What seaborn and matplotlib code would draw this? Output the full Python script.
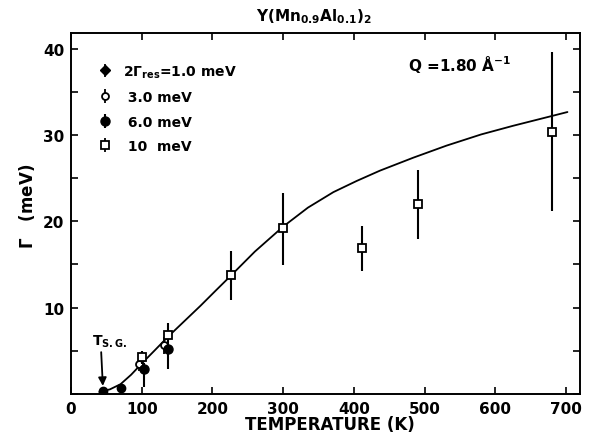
"""
Y(Mn0.9Al0.1)2 — 线宽 Γ 随温度变化 (Q = 1.80 Å^-1)
"""

import numpy as np
import pandas as pd
import matplotlib
matplotlib.use("Agg")
import matplotlib.pyplot as plt
import seaborn as sns

# ---- 数据 ----
# 2Γres = 1.0 meV（实心小圆）
t_res1 = [45, 70]
g_res1 = [0.35, 0.7]

# 3.0 meV（空心圆）
t_res3 = [96, 131]
g_res3 = [3.5, 5.6]
g_res3_lo = [2.6, 4.6]
g_res3_hi = [4.4, 6.6]

# 6.0 meV（实心大圆）
t_res6 = [103, 137]
g_res6 = [2.9, 5.2]
g_res6_lo = [0.8, 2.9]
g_res6_hi = [3.6, 5.8]

# 10 meV（空心方块）
t_res10 = [101, 137, 226, 300, 412, 490, 680]
g_res10 = [4.3, 6.8, 13.8, 19.2, 16.9, 22.0, 30.4]
g_res10_lo = [3.4, 5.8, 10.9, 14.9, 14.3, 17.9, 21.2]
g_res10_hi = [5.0, 8.2, 16.6, 23.3, 19.5, 26.0, 39.7]

# 理论曲线
t_fit = [40, 55, 70, 85, 100, 118, 137, 160, 183, 205, 226, 260, 300,
         335, 371, 404, 437, 484, 531, 580, 625, 678, 702]
g_fit = [0.2, 0.5, 1.1, 2.2, 3.5, 5.0, 6.6, 8.4, 10.2, 12.0, 13.7, 16.5, 19.4,
         21.6, 23.4, 24.7, 25.9, 27.4, 28.8, 30.1, 31.1, 32.2, 32.7]

x_ticks = [0, 100, 200, 300, 400, 500, 600, 700]
y_ticks = [0, 5, 10, 15, 20, 25, 30, 35, 40]
y_labels = ["", "", "10", "", "20", "", "30", "", "40"]

sns.set_theme(style="ticks")
plt.rcParams["font.family"] = ["DejaVu Sans"]
plt.rcParams["font.weight"] = "bold"
plt.rcParams["mathtext.default"] = "bf"
for k in ["text.color", "axes.labelcolor", "xtick.color", "ytick.color",
          "axes.edgecolor"]:
    plt.rcParams[k] = "black"

fig = plt.figure(figsize=(5.92, 4.39), dpi=100)
ax = fig.add_axes([0.12, 0.101, 0.86, 0.822])

fit_df = pd.DataFrame({"T": t_fit, "G": g_fit})
sns.lineplot(data=fit_df, x="T", y="G", ax=ax, color="black", linewidth=1.3,
             estimator=None, sort=False)


def err(vals, lo, hi):
    v = np.array(vals)
    return [v - np.array(lo), np.array(hi) - v]


ax.errorbar(t_res1, g_res1, fmt="o", color="black", ms=6,
            elinewidth=1.3, capsize=0, zorder=5)
ax.errorbar(t_res3, g_res3, yerr=err(g_res3, g_res3_lo, g_res3_hi),
            fmt="o", mfc="white", mec="black", color="black", ms=5,
            mew=1.3, elinewidth=1.3, capsize=0, zorder=5)
ax.errorbar(t_res6, g_res6, yerr=err(g_res6, g_res6_lo, g_res6_hi),
            fmt="o", color="black", ms=6.5, elinewidth=1.5, capsize=0, zorder=5)
ax.errorbar(t_res10, g_res10, yerr=err(g_res10, g_res10_lo, g_res10_hi),
            fmt="s", mfc="white", mec="black", color="black", ms=5.5,
            mew=1.3, elinewidth=1.5, capsize=0, zorder=6)

# 图例用的句柄（带竖线）
leg_handles = [
    ax.errorbar([], [], yerr=[], fmt="D", color="black", ms=5, elinewidth=1.3),
    ax.errorbar([], [], yerr=[], fmt="o", mfc="white", mec="black", color="black",
                ms=5, mew=1.3, elinewidth=1.3),
    ax.errorbar([], [], yerr=[], fmt="o", color="black", ms=6.5, elinewidth=1.5),
    ax.errorbar([], [], yerr=[], fmt="s", mfc="white", mec="black", color="black",
                ms=5.5, mew=1.3, elinewidth=1.3),
]
leg_labels = [r"2$\Gamma_{res}$=1.0 meV", " 3.0 meV", " 6.0 meV", " 10  meV"]
ax.legend(leg_handles, leg_labels, loc="upper left", bbox_to_anchor=(0.032, 0.95),
          frameon=False, handlelength=0.8, handletextpad=0.9, labelspacing=0.75,
          prop={"weight": "bold", "size": 10})

ax.set_xlim(0, 720)
ax.set_ylim(0, 41.9)
ax.set_xticks(x_ticks)
ax.set_xticklabels([str(v) for v in x_ticks], fontsize=11, fontweight="bold")
ax.set_yticks(y_ticks)
ax.set_yticklabels(y_labels, fontsize=11, fontweight="bold")
ax.tick_params(direction="in", length=5, width=1.2, top=True, right=True,
               colors="black", pad=5)
for s in ax.spines.values():
    s.set_linewidth(1.4)
    s.set_color("black")
ax.set_xlabel("")
ax.set_ylabel("")

fig.text(0.53, 0.962, r"Y(Mn$_{0.9}$Al$_{0.1}$)$_2$", ha="center", va="center",
         fontsize=11, fontweight="bold")
fig.text(0.557, 0.032, "TEMPERATURE (K)", ha="center", va="center",
         fontsize=12, fontweight="bold")
fig.text(0.045, 0.53, r"$\Gamma$   (meV)", ha="center", va="center",
         rotation=90, fontsize=12, fontweight="bold")
ax.text(0.764, 0.915, r"Q =1.80 $\AA^{-1}$", transform=ax.transAxes, ha="center",
        va="center", fontsize=11, fontweight="bold")

ax.annotate(r"T$_{S.G.}$", xy=(45, 0.9), xytext=(30, 5.2), fontsize=10,
            fontweight="bold", ha="left", va="bottom",
            arrowprops=dict(arrowstyle="-|>", color="black", lw=1.3,
                            shrinkA=0, shrinkB=0, mutation_scale=12,
                            relpos=(0.25, 0.0)))

fig.savefig("out.png", dpi=100)
plt.close(fig)
